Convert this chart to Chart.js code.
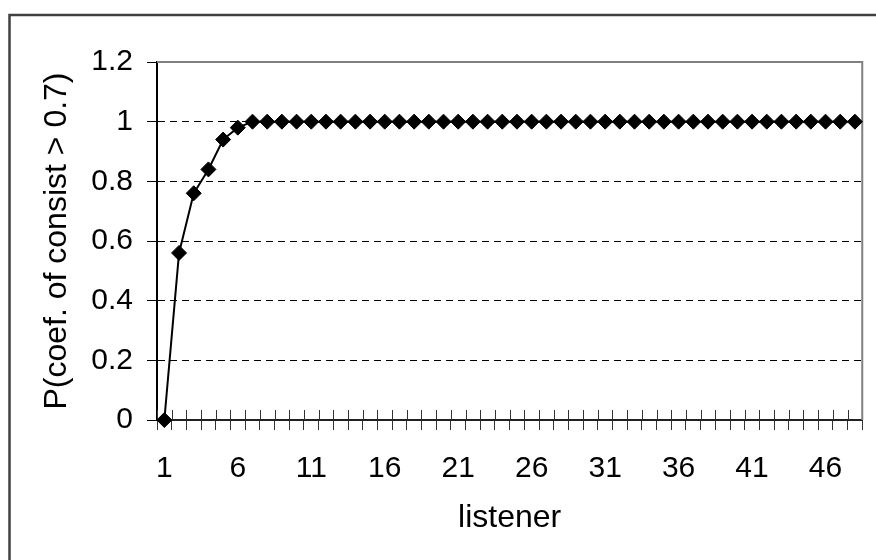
<!DOCTYPE html>
<html>
<head>
<meta charset="utf-8">
<script src="https://cdn.jsdelivr.net/npm/chart.js@4.4.1/dist/chart.umd.min.js"></script>
<style>
html,body{margin:0;padding:0;background:#fff;}
canvas{display:block;}
</style>
</head>
<body>
<canvas id="c" width="876" height="560"></canvas>
<script>
const listeners = ['1','2','3','4','5','6','7','8','9','10','11','12','13','14','15','16','17','18','19','20','21','22','23','24','25','26','27','28','29','30','31','32','33','34','35','36','37','38','39','40','41','42','43','44','45','46','47','48'];
const probability = [0,0.56,0.76,0.84,0.94,0.98,1,1,1,1,1,1,1,1,1,1,1,1,1,1,1,1,1,1,1,1,1,1,1,1,1,1,1,1,1,1,1,1,1,1,1,1,1,1,1,1,1,1];
const xTickLabels = ['1','6','11','16','21','26','31','36','41','46'];
const yTickLabels = ['0','0.2','0.4','0.6','0.8','1','1.2'];
const yTitle = 'P(coef. of consist > 0.7)';
const xTitle = 'listener';

const FONT = 'Liberation Sans, Arial, sans-serif';

const decor = {
  id: 'decor',
  beforeDraw(chart) {
    const ctx = chart.ctx;
    ctx.save();
    ctx.fillStyle = '#fff';
    ctx.fillRect(0, 0, chart.width, chart.height);
    ctx.strokeStyle = '#404040';
    ctx.lineWidth = 2.5;
    ctx.beginPath();
    ctx.moveTo(9.5, chart.height + 2);
    ctx.lineTo(9.5, 15);
    ctx.lineTo(chart.width + 2, 15);
    ctx.stroke();
    ctx.restore();
  },
  beforeDatasetsDraw(chart) {
    const ctx = chart.ctx;
    const xs = chart.scales.x;
    const a = chart.chartArea;
    ctx.save();
    ctx.strokeStyle = '#333';
    ctx.lineWidth = 1;
    for (let i = 0; i <= listeners.length; i++) {
      const px = Math.round(xs.getPixelForValue(i - 0.5)) + 0.5;
      ctx.beginPath();
      ctx.moveTo(px, a.bottom - 10);
      ctx.lineTo(px, a.bottom);
      ctx.stroke();
    }
    ctx.strokeStyle = '#808080';
    ctx.lineWidth = 2;
    ctx.beginPath();
    ctx.moveTo(a.left, a.top);
    ctx.lineTo(a.right, a.top);
    ctx.lineTo(a.right, a.bottom);
    ctx.stroke();
    ctx.restore();
  }
};

new Chart(document.getElementById('c'), {
  type: 'line',
  data: {
    labels: listeners,
    datasets: [{
      data: probability,
      borderColor: '#000',
      borderWidth: 2,
      backgroundColor: '#000',
      pointStyle: 'rectRot',
      pointRadius: 7.5,
      pointBorderWidth: 1,
      pointBorderColor: '#000',
      pointBackgroundColor: '#000',
      tension: 0,
      clip: false,
      fill: false
    }]
  },
  options: {
    responsive: false,
    animation: false,
    devicePixelRatio: 1,
    layout: { padding: { left: 0, top: 62, right: 9, bottom: 0 } },
    plugins: { legend: { display: false }, tooltip: { enabled: false } },
    scales: {
      x: {
        type: 'category',
        offset: true,
        grid: {
          offset: true,
          drawOnChartArea: false,
          drawTicks: true,
          tickLength: 10,
          tickColor: '#333',
          tickWidth: 1
        },
        border: { display: true, color: '#222', width: 2 },
        ticks: {
          autoSkip: false,
          maxRotation: 0,
          minRotation: 0,
          padding: 21,
          color: '#000',
          font: { family: FONT, size: 30 },
          callback: function(v, i) { return i % 5 === 0 ? xTickLabels[i / 5] : ''; }
        },
        title: {
          display: true,
          text: xTitle,
          color: '#000',
          font: { family: FONT, size: 32 },
          padding: { top: 0, bottom: 23 }
        },
        afterFit(s) { s.height = 140; }
      },
      y: {
        min: 0,
        max: 1.2,
        ticks: {
          stepSize: 0.2,
          padding: 14,
          color: '#000',
          font: { family: FONT, size: 30 },
          callback: function(v, i) { return yTickLabels[i]; }
        },
        grid: {
          color: (c) => (c.tick && (c.tick.value === 0 || Math.abs(c.tick.value - 1.2) < 1e-9)) ? 'rgba(0,0,0,0)' : '#000',
          lineWidth: 1,
          tickColor: '#000',
          tickLength: 10,
          tickWidth: 1,
          tickBorderDash: []
        },
        border: { display: true, color: '#000', width: 2, dash: [7, 5] },
        title: {
          display: true,
          text: yTitle,
          color: '#000',
          font: { family: FONT, size: 32 },
          padding: { top: 38, bottom: 0 }
        },
        afterFit(s) { s.width = 157; }
      }
    }
  },
  plugins: [decor]
});
</script>
</body>
</html>
